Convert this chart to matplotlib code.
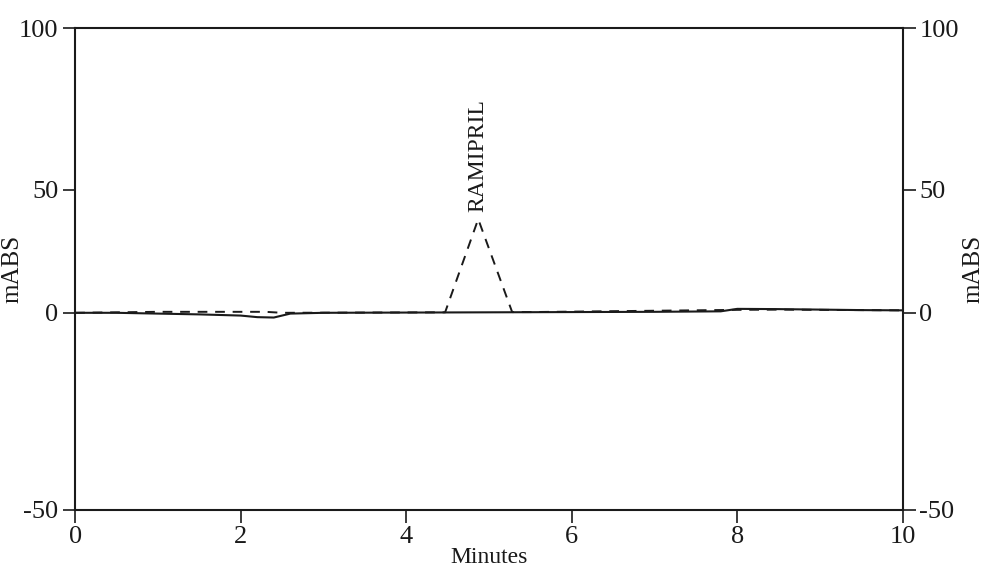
import numpy as np
import matplotlib

matplotlib.use('Agg')
import matplotlib.pyplot as plt

# chromatogram traces (minutes, mAbs)
blank_time = [0.0, 0.5, 1.0, 1.5, 2.0, 2.2, 2.4, 2.6, 3.0, 4.0, 5.0, 6.0, 7.0, 7.8, 8.0, 8.5, 9.0, 9.5, 10.0]
blank_abs = [0.0, 0.0, -0.2, -0.4, -0.7, -1.1, -1.2, -0.2, 0.0, 0.1, 0.2, 0.3, 0.4, 0.6, 1.6, 1.5, 1.3, 1.1, 1.0]

sample_time = [0.0, 1.0, 2.3, 2.5, 4.47, 4.87, 5.28, 5.5, 8.0, 8.5, 10.0]
sample_abs = [0.0, 0.4, 0.4, 0.0, 0.2, 38.0, 0.3, 0.3, 1.2, 1.3, 1.0]

peak_name = 'RAMIPRIL'
peak_time = 4.87
peak_abs = 38.0

x_ticks = [0, 2, 4, 6, 8, 10]
y_ticks = [-50, 0, 50, 100]

# the printed y axis is not evenly spaced, map the tick values to where they sit
y_marks = [-50, 0, 50, 100]
y_frac = [0.0, 0.409, 0.665, 1.0]


def fwd(v):
    return np.interp(v, y_marks, y_frac)


def inv(v):
    return np.interp(v, y_frac, y_marks)


plt.rcParams['font.family'] = ['Liberation Serif', 'DejaVu Serif']
ink = '#1a1a1a'

fig = plt.figure(figsize=(10.02, 5.76), dpi=100)
ax = fig.add_axes([0.075, 0.115, 0.826, 0.836])
ax.set_yscale('function', functions=(fwd, inv))

ax.plot(blank_time, blank_abs, color=ink, lw=1.5, solid_capstyle='butt')
ax.plot(sample_time, sample_abs, color=ink, lw=1.4, dashes=(5, 4))

ax.text(peak_time, peak_abs + 3, peak_name, rotation=90, ha='center', va='bottom',
        fontsize=17, color=ink)

ax.set_xlim(0, 10)
ax.set_ylim(-50, 100)
ax.set_xticks(x_ticks)
ax.set_yticks(y_ticks)
ax.set_yticklabels([str(v) for v in y_ticks])
ax.minorticks_off()

ax.yaxis.set_ticks_position('both')
ax.tick_params(axis='both', direction='out', length=9, width=1.2, labelsize=19,
               colors=ink, pad=3)
ax.tick_params(axis='y', right=True, labelright=True, left=True, labelleft=True)
ax.tick_params(axis='x', pad=3)

for s in ax.spines.values():
    s.set_linewidth(1.5)
    s.set_color(ink)

ax.set_xlabel('Minutes', fontsize=17, color=ink, labelpad=-1)
ax.set_ylabel('mABS', fontsize=18, color=ink)
ax.yaxis.set_label_coords(-0.062, 0.5)
ax.text(1.085, 0.5, 'mABS', transform=ax.transAxes, rotation=90, ha='center',
        va='center', fontsize=18, color=ink)

fig.savefig('out.png', dpi=100)
